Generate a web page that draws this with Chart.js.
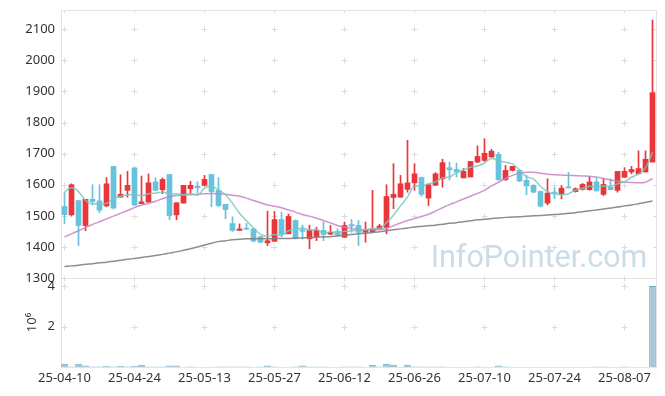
<!DOCTYPE html>
<html>
<head>
<meta charset="utf-8">
<title>Daily candles</title>
<script src="https://cdn.jsdelivr.net/npm/chart.js@4/dist/chart.umd.min.js"></script>
<style>
  html, body { margin: 0; padding: 0; background: #ffffff; }
  canvas { display: block; }
</style>
</head>
<body>
<canvas id="chart" width="665" height="396"></canvas>
<script>
// trading days shown on the chart
const dates = [
  '25-04-10','25-04-11','25-04-14','25-04-15','25-04-16','25-04-17','25-04-18','25-04-21','25-04-22','25-04-23',
  '25-04-24','25-04-25','25-04-28','25-04-29','25-04-30','25-05-02','25-05-07','25-05-08','25-05-09','25-05-12',
  '25-05-13','25-05-14','25-05-15','25-05-16','25-05-19','25-05-20','25-05-21','25-05-22','25-05-23','25-05-26',
  '25-05-27','25-05-28','25-05-29','25-05-30','25-06-02','25-06-04','25-06-05','25-06-09','25-06-10','25-06-11',
  '25-06-12','25-06-13','25-06-16','25-06-17','25-06-18','25-06-19','25-06-20','25-06-23','25-06-24','25-06-25',
  '25-06-26','25-06-27','25-06-30','25-07-01','25-07-02','25-07-03','25-07-04','25-07-07','25-07-08','25-07-09',
  '25-07-10','25-07-11','25-07-14','25-07-15','25-07-16','25-07-17','25-07-18','25-07-21','25-07-22','25-07-23',
  '25-07-24','25-07-25','25-07-28','25-07-29','25-07-30','25-07-31','25-08-01','25-08-04','25-08-05','25-08-06',
  '25-08-07','25-08-08','25-08-11','25-08-12','25-08-13'
];

const xTickLabels = ['25-04-10','25-04-24','25-05-13','25-05-27','25-06-12','25-06-26','25-07-10','25-07-24','25-08-07'];

const opens = [
  1530,1503,1549,1469,1553,1548,1532,1659,1560,1582,
  1654,1539,1544,1609,1584,1633,1503,1541,1587,1596,
  1598,1633,1582,1537,1475,1453,1460,1458,1433,1413,
  1418,1488,1442,1485,1455,1426,1433,1453,1441,1450,
  1431,1472,1469,1447,1449,1457,1463,1559,1560,1585,
  1606,1623,1557,1598,1619,1655,1649,1622,1625,1673,
  1678,1689,1698,1616,1646,1646,1614,1598,1578,1541,
  1576,1571,1593,1578,1585,1584,1609,1569,1592,1582,
  1624,1641,1635,1641,1673
];
const highs = [
  1576,1603,1550,1553,1600,1600,1623,1659,1632,1643,
  1657,1628,1635,1623,1622,1633,1542,1598,1611,1610,
  1630,1633,1623,1537,1497,1474,1476,1458,1434,1515,
  1514,1512,1506,1487,1470,1470,1463,1480,1469,1458,
  1480,1488,1485,1480,1582,1473,1600,1668,1630,1743,
  1668,1625,1600,1639,1682,1673,1670,1652,1675,1725,
  1748,1714,1705,1662,1659,1648,1630,1600,1580,1619,
  1592,1598,1640,1590,1604,1627,1622,1619,1619,1643,
  1655,1659,1709,1709,2130
];
const lows = [
  1474,1499,1404,1452,1535,1510,1529,1522,1560,1560,
  1533,1539,1544,1581,1571,1488,1487,1541,1571,1574,
  1596,1529,1529,1490,1450,1453,1456,1416,1413,1404,
  1418,1432,1442,1426,1425,1394,1420,1420,1439,1434,
  1431,1447,1404,1415,1447,1457,1442,1523,1560,1576,
  1582,1563,1533,1598,1592,1615,1625,1622,1625,1671,
  1675,1689,1614,1614,1644,1610,1568,1574,1528,1535,
  1555,1555,1589,1576,1583,1582,1580,1565,1584,1576,
  1624,1635,1635,1641,1673
];
const closes = [
  1504,1600,1469,1553,1546,1518,1603,1525,1569,1598,
  1535,1545,1606,1582,1617,1501,1542,1598,1598,1590,
  1617,1578,1533,1520,1453,1458,1457,1419,1415,1420,
  1488,1441,1498,1426,1450,1453,1453,1440,1447,1439,
  1469,1467,1447,1454,1458,1467,1562,1569,1603,1606,
  1635,1569,1600,1635,1671,1648,1641,1643,1675,1691,
  1701,1708,1616,1646,1659,1612,1596,1576,1531,1573,
  1573,1589,1590,1587,1601,1609,1580,1601,1584,1643,
  1643,1649,1652,1682,1896
];

// moving averages
const ma5 = [
  1578,1590,1578,1550,1538,1539,1540,1556,1563,1567,
  1569,1564,1571,1573,1577,1570,1570,1568,1571,1566,
  1589,1596,1583,1568,1540,1508,1484,1461,1440,1434,
  1440,1437,1452,1455,1461,1454,1456,1444,1449,1446,
  1450,1452,1454,1455,1459,1459,1478,1502,1532,1561,
  1595,1596,1603,1609,1622,1625,1639,1648,1656,1660,
  1670,1684,1678,1672,1666,1648,1626,1618,1595,1578,
  1570,1568,1571,1582,1588,1595,1593,1596,1595,1603,
  1610,1624,1634,1654,1704
];
const ma20 = [
  1432,1442,1452,1462,1472,1481,1490,1499,1508,1517,
  1527,1534,1540,1547,1555,1561,1565,1567,1568,1569,
  1571,1572,1571,1569,1566,1563,1557,1549,1542,1535,
  1531,1526,1519,1512,1504,1499,1492,1485,1477,1469,
  1463,1459,1456,1455,1455,1456,1460,1468,1477,1485,
  1491,1498,1505,1515,1526,1536,1545,1554,1563,1572,
  1582,1596,1608,1620,1630,1637,1640,1640,1637,1634,
  1632,1631,1630,1629,1628,1627,1625,1620,1615,1611,
  1609,1607,1606,1608,1620
];
const ma60 = [
  1337,1339,1341,1344,1346,1349,1351,1354,1357,1360,
  1363,1366,1369,1372,1376,1380,1384,1389,1394,1400,
  1406,1412,1417,1420,1423,1425,1426,1426,1426,1426,
  1427,1427,1427,1428,1429,1430,1431,1432,1433,1435,
  1438,1440,1442,1444,1446,1449,1452,1455,1458,1461,
  1464,1466,1468,1470,1473,1476,1478,1481,1484,1487,
  1489,1491,1493,1495,1496,1497,1499,1500,1501,1503,
  1504,1506,1508,1510,1513,1516,1519,1522,1525,1528,
  1532,1535,1539,1543,1548
];

// volume, millions of shares
const volumes = [
  0.16,0.03,0.16,0.07,0.02,0.02,0.05,0.02,0.05,0.02,
  0.05,0.11,0.02,0.02,0.02,0.07,0.07,0.005,0.02,0.005,
  0.005,0.005,0.02,0.02,0.02,0.02,0.02,0.005,0.02,0.07,
  0.03,0.005,0.005,0.02,0.07,0.02,0.02,0.02,0.005,0.005,
  0.02,0.02,0.02,0.005,0.11,0.02,0.16,0.11,0.005,0.11,
  0.02,0.02,0.02,0.02,0.02,0.005,0.005,0.005,0.005,0.02,
  0.005,0.005,0.08,0.02,0.005,0.005,0.005,0.005,0.005,0.005,
  0.005,0.005,0.005,0.005,0.005,0.005,0.02,0.02,0.005,0.005,
  0.02,0.005,0.005,0.005,4.0
];

const UP = '#ea353b';
const DOWN = '#67c2dc';
const TEXT = '#333333';
const FONT = { family: '"Noto Sans", "DejaVu Sans", sans-serif', size: 13 };

const isUp = i => closes[i] >= opens[i];
const candleColor = ctx => isUp(ctx.dataIndex) ? UP : DOWN;

const wicks = dates.map((d, i) => [lows[i], highs[i]]);
const bodies = dates.map((d, i) => [Math.min(opens[i], closes[i]), Math.max(opens[i], closes[i])]);

// y axes: fixed width, and no extra room reserved for edge labels
const fitY = s => {
  s.width = 61;
  s.paddingTop = 0;
  s.paddingBottom = 0;
};

// frames, tick crosses and the watermark, drawn under the data
const panelDeco = {
  id: 'panelDeco',
  beforeDatasetsDraw(chart) {
    const { ctx, chartArea: area, scales } = chart;
    const x = scales.x, y = scales.y, yv = scales.yv;
    ctx.save();

    ctx.font = '30.5px Roboto, "Noto Sans", sans-serif';
    ctx.fillStyle = 'rgba(150, 186, 206, 0.5)';
    ctx.textAlign = 'center';
    ctx.textBaseline = 'alphabetic';
    ctx.fillText('InfoPointer.com', area.right - 117, y.bottom - 11);

    ctx.strokeStyle = '#e4e4e4';
    ctx.lineWidth = 1;
    const w = area.right - area.left;
    ctx.strokeRect(area.left + 0.5, y.top + 0.5, w, y.bottom - y.top);
    ctx.strokeRect(area.left + 0.5, yv.top + 0.5, w, yv.bottom - yv.top);

    const xs = [];
    dates.forEach((d, i) => {
      if (xTickLabels.includes(d)) xs.push(Math.floor(x.getPixelForValue(i)) + 0.5);
    });
    const ys = [];
    y.ticks.forEach(t => ys.push(Math.round(y.getPixelForValue(t.value)) + 0.5));
    yv.ticks.forEach(t => { if (t.value > 0) ys.push(Math.round(yv.getPixelForValue(t.value)) + 0.5); });

    ctx.strokeStyle = '#dcdcdc';
    ctx.beginPath();
    xs.forEach(px => {
      ys.forEach(py => {
        ctx.moveTo(px - 3, py); ctx.lineTo(px + 3, py);
        ctx.moveTo(px, py - 3); ctx.lineTo(px, py + 3);
      });
      ctx.moveTo(px, y.top); ctx.lineTo(px, y.top + 3);
      ctx.moveTo(px, yv.top); ctx.lineTo(px, yv.top + 3);
    });
    ys.forEach(py => {
      ctx.moveTo(area.right - 3, py); ctx.lineTo(area.right + 1, py);
      ctx.moveTo(area.left, py); ctx.lineTo(area.left + 4, py);
    });
    ctx.stroke();
    ctx.restore();
  }
};

new Chart(document.getElementById('chart'), {
  data: {
    labels: dates,
    datasets: [
      {
        type: 'line', label: 'MA5', data: ma5, yAxisID: 'y', order: 0,
        borderColor: 'rgba(120, 200, 190, 0.85)', borderWidth: 1.5,
        pointRadius: 0, tension: 0.4, cubicInterpolationMode: 'monotone'
      },
      {
        type: 'line', label: 'MA20', data: ma20, yAxisID: 'y', order: 0,
        borderColor: 'rgba(200, 130, 196, 0.85)', borderWidth: 1.5,
        pointRadius: 0, tension: 0.4, cubicInterpolationMode: 'monotone'
      },
      {
        type: 'line', label: 'MA60', data: ma60, yAxisID: 'y', order: 0,
        borderColor: 'rgba(130, 130, 130, 0.9)', borderWidth: 1.5,
        pointRadius: 0, tension: 0.4, cubicInterpolationMode: 'monotone'
      },
      {
        type: 'bar', label: 'body', data: bodies, yAxisID: 'y', order: 1,
        backgroundColor: candleColor, borderWidth: 0,
        barThickness: 5, minBarLength: 1, grouped: false
      },
      {
        type: 'bar', label: 'wick', data: wicks, yAxisID: 'y', order: 2,
        backgroundColor: candleColor, borderWidth: 0,
        barThickness: 1, minBarLength: 1, grouped: false
      },
      {
        type: 'bar', label: 'volume', data: volumes, yAxisID: 'yv', order: 3,
        backgroundColor: '#a4c7d7', borderColor: '#72a6be', borderWidth: 1,
        barPercentage: 0.95, categoryPercentage: 1, grouped: false
      }
    ]
  },
  options: {
    responsive: false,
    animation: false,
    devicePixelRatio: 1,
    layout: { padding: { top: 10, right: 9, left: 0, bottom: 0 } },
    plugins: { legend: { display: false }, tooltip: { enabled: false } },
    scales: {
      x: {
        type: 'category',
        offset: true,
        grid: { display: false, drawTicks: false },
        border: { display: false },
        ticks: {
          autoSkip: false, maxRotation: 0, minRotation: 0, padding: 3,
          color: TEXT, font: FONT,
          callback: (v, i) => xTickLabels.includes(dates[i]) ? dates[i] : ''
        },
        afterFit: s => { s.height = 29; }
      },
      y: {
        type: 'linear', position: 'left', stack: 'panels', stackWeight: 268, weight: 2,
        min: 1300, max: 2162,
        grid: { display: false, drawTicks: false },
        border: { display: false },
        ticks: {
          stepSize: 100, includeBounds: false, autoSkip: false, padding: 6,
          color: TEXT, font: FONT,
          callback: v => String(v)
        },
        afterFit: fitY
      },
      yv: {
        type: 'linear', position: 'left', stack: 'panels', stackWeight: 89, weight: 1,
        min: 0, max: 4.4,
        grid: { display: false, drawTicks: false },
        border: { display: false },
        title: { display: true, text: '10⁶', color: TEXT, font: FONT, padding: { top: 24, bottom: 0 } },
        ticks: {
          stepSize: 2, includeBounds: false, autoSkip: false, padding: 6,
          color: TEXT, font: FONT,
          callback: v => v === 0 ? '' : String(v)
        },
        afterFit: fitY
      }
    }
  },
  plugins: [panelDeco]
});
</script>
</body>
</html>
